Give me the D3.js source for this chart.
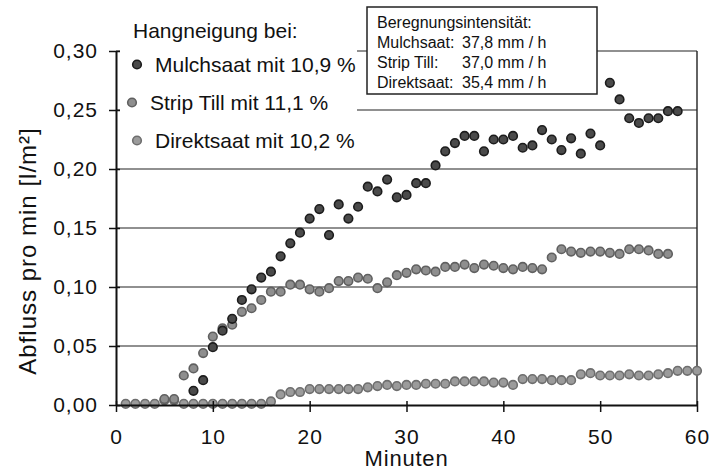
<!DOCTYPE html>
<html>
<head>
<meta charset="utf-8">
<script src="https://cdn.jsdelivr.net/npm/d3@7"></script>
<style>
body { margin: 0; background: #fff; }
svg { display: block; font-family: 'Liberation Sans', Arial, sans-serif; }
</style>
</head>
<body>
<svg id="drawing_region"></svg>
<script>
// x and y ticks
const x_ticks = [0, 10, 20, 30, 40, 50, 60];
const y_ticks = [0, 0.05, 0.10, 0.15, 0.20, 0.25, 0.30];

const legend_title = 'Hangneigung bei:';
const legend_labels = ['Mulchsaat mit 10,9 %', 'Strip Till mit 11,1 %', 'Direktsaat mit 10,2 %'];

const info_title = 'Beregnungsintensität:';
const info_names = ['Mulchsaat:', 'Strip Till:', 'Direktsaat:'];
const info_values = ['37,8 mm / h', '37,0 mm / h', '35,4 mm / h'];

// runoff per minute, first value at the start minute, then one value per minute
const mulch_start = 8;
const mulch_values = [0.012, 0.021, 0.049, 0.063, 0.073, 0.089, 0.098, 0.108, 0.113, 0.126,
    0.137, 0.146, 0.158, 0.166, 0.144, 0.170, 0.158, 0.168, 0.185, 0.181,
    0.191, 0.176, 0.178, 0.188, 0.188, 0.203, 0.215, 0.222, 0.228, 0.228,
    0.215, 0.225, 0.225, 0.228, 0.218, 0.220, 0.233, 0.225, 0.216, 0.226,
    0.213, 0.230, 0.220, 0.273, 0.259, 0.243, 0.239, 0.243, 0.243, 0.249, 0.249];

const strip_start = 5;
const strip_values = [0.005, 0.005, 0.025, 0.031, 0.044, 0.058, 0.065, 0.068, 0.079, 0.082,
    0.089, 0.096, 0.096, 0.102, 0.102, 0.098, 0.096, 0.099, 0.105, 0.105,
    0.108, 0.107, 0.099, 0.104, 0.110, 0.112, 0.115, 0.114, 0.113, 0.117,
    0.117, 0.119, 0.116, 0.119, 0.118, 0.116, 0.115, 0.117, 0.116, 0.115,
    0.125, 0.132, 0.130, 0.129, 0.130, 0.130, 0.129, 0.128, 0.132, 0.132, 0.131, 0.128, 0.128];

const direkt_start = 1;
const direkt_values = [0.001, 0.001, 0.001, 0.001, 0.004, 0.004, 0.001, 0.001, 0.001, 0.001,
    0.001, 0.001, 0.001, 0.001, 0.001, 0.003, 0.009, 0.011, 0.011, 0.0135,
    0.0135, 0.0135, 0.0135, 0.0135, 0.0135, 0.015, 0.016, 0.017, 0.016, 0.017,
    0.017, 0.018, 0.018, 0.018, 0.020, 0.020, 0.020, 0.020, 0.019, 0.019,
    0.017, 0.022, 0.022, 0.022, 0.021, 0.021, 0.021, 0.026, 0.027, 0.025,
    0.025, 0.025, 0.026, 0.025, 0.025, 0.026, 0.027, 0.029, 0.029, 0.029];

const toPoints = (start, values) => values.map((v, i) => ({ t: start + i, value: v }));

const series = [
    { name: 'Direktsaat', fill: '#9b9b9b', stroke: '#6e6e6e', points: toPoints(direkt_start, direkt_values) },
    { name: 'Strip Till', fill: '#8e8e8e', stroke: '#606060', points: toPoints(strip_start, strip_values) },
    { name: 'Mulchsaat', fill: '#4a4a4a', stroke: '#1c1c1c', points: toPoints(mulch_start, mulch_values) }
];
// legend order: Mulchsaat, Strip Till, Direktsaat
const legend_series = [series[2], series[1], series[0]];

var config = {
    parent: '#drawing_region',
    width: 713,
    height: 473,
    margin: {top:51, right:16, bottom:68, left:116}
};

class ScatterChart {

    constructor( config, data ) {
        this.config = config;
        this.data = data;
        this.init();
    }

    init() {
        let self = this;

        self.svg = d3.select( self.config.parent )
            .attr('width', self.config.width)
            .attr('height', self.config.height);

        self.inner_width = self.config.width - self.config.margin.left - self.config.margin.right;
        self.inner_height = self.config.height - self.config.margin.top - self.config.margin.bottom;

        self.chart = self.svg.append('g')
            .attr('transform', `translate(${self.config.margin.left}, ${self.config.margin.top})`);

        self.xscale = d3.scaleLinear()
            .domain([0, 60])
            .range([0, self.inner_width]);

        self.yscale = d3.scaleLinear()
            .domain([0, 0.30])
            .range([self.inner_height, 0]);

        self.xaxis = d3.axisBottom( self.xscale )
            .tickValues(x_ticks)
            .tickSize(7)
            .tickPadding(17)
            .tickSizeOuter(0);

        self.yaxis = d3.axisLeft( self.yscale )
            .tickValues(y_ticks)
            .tickSize(7)
            .tickPadding(11)
            .tickFormat(d => d3.format('.2f')(d).replace('.', ','))
            .tickSizeOuter(0);
    }

    update() {
        this.render();
    }

    render() {
        let self = this;

        // grid lines
        self.chart.selectAll('.grid')
            .data(y_ticks.filter(d => d > 0))
            .join('line')
            .attr('class', 'grid')
            .attr('x1', 0)
            .attr('x2', self.inner_width)
            .attr('y1', d => self.yscale(d))
            .attr('y2', d => self.yscale(d))
            .attr('stroke', '#222')
            .attr('stroke-width', 1.2);

        // right border
        self.chart.append('line')
            .attr('x1', self.inner_width).attr('x2', self.inner_width)
            .attr('y1', self.yscale(0.30)).attr('y2', self.yscale(0))
            .attr('stroke', '#222')
            .attr('stroke-width', 1.4);

        // points
        self.chart.selectAll('.series')
            .data(self.data)
            .join('g')
            .attr('class', 'series')
            .each(function(s) {
                d3.select(this).selectAll('circle')
                    .data(s.points)
                    .join('circle')
                    .attr('cx', d => self.xscale(d.t))
                    .attr('cy', d => self.yscale(d.value))
                    .attr('r', 4.3)
                    .attr('fill', s.fill)
                    .attr('stroke', s.stroke)
                    .attr('stroke-width', 1.6);
            });

        // legend
        const legend = self.svg.append('g');
        legend.append('rect')
            .attr('x', 120).attr('y', 12)
            .attr('width', 237).attr('height', 146)
            .attr('fill', '#fff');
        legend.append('text')
            .attr('x', 133).attr('y', 38)
            .attr('font-size', 21)
            .attr('fill', '#111')
            .text(legend_title);
        const item_x = [155, 150, 155];
        const item_y = [72, 110, 148];
        legend_series.forEach((s, i) => {
            legend.append('circle')
                .attr('cx', item_x[i] - 18).attr('cy', item_y[i] - 7.5)
                .attr('r', 4.3)
                .attr('fill', s.fill)
                .attr('stroke', s.stroke)
                .attr('stroke-width', 1.6);
            legend.append('text')
                .attr('x', item_x[i]).attr('y', item_y[i])
                .attr('font-size', 21)
                .attr('fill', '#111')
                .text(legend_labels[i]);
        });

        // info box
        const info = self.svg.append('g');
        info.append('rect')
            .attr('x', 367).attr('y', 7)
            .attr('width', 230).attr('height', 87)
            .attr('fill', '#fff')
            .attr('stroke', '#222')
            .attr('stroke-width', 1.5);
        info.append('text')
            .attr('x', 377).attr('y', 28)
            .attr('font-size', 16)
            .attr('fill', '#111')
            .text(info_title);
        info_names.forEach((n, i) => {
            info.append('text')
                .attr('x', 377).attr('y', 48 + i * 20)
                .attr('font-size', 16)
                .attr('fill', '#111')
                .text(n);
            info.append('text')
                .attr('x', 462).attr('y', 48 + i * 20)
                .attr('font-size', 16)
                .attr('fill', '#111')
                .text(info_values[i]);
        });

        // axes
        const xg = self.chart.append('g')
            .attr('transform', `translate(0, ${self.inner_height})`)
            .call( self.xaxis );
        xg.selectAll('.tick line').attr('y1', -4);
        const yg = self.chart.append('g')
            .call( self.yaxis );
        yg.selectAll('.tick line').attr('x1', 4);

        [xg, yg].forEach(g => {
            g.select('.domain').attr('stroke', '#111').attr('stroke-width', 2);
            g.selectAll('.tick line').attr('stroke', '#111').attr('stroke-width', 1.5);
            g.selectAll('.tick text')
                .attr('font-size', 21)
                .attr('fill', '#111')
                .attr('font-family', "'Liberation Sans', Arial, sans-serif")
                .style('letter-spacing', '1px');
        });

        // axis titles
        self.svg.append('text')
            .attr('x', self.config.margin.left + self.inner_width / 2)
            .attr('y', 466)
            .attr('text-anchor', 'middle')
            .attr('font-size', 22)
            .attr('fill', '#111')
            .style('letter-spacing', '0.8px')
            .text('Minuten');

        self.svg.append('text')
            .attr('transform', 'translate(36, 251) rotate(-90)')
            .attr('text-anchor', 'middle')
            .attr('font-size', 24)
            .attr('fill', '#111')
            .style('letter-spacing', '1px')
            .text('Abfluss pro min [l/m²]');
    }
}

const chart = new ScatterChart( config, series );
chart.update();
</script>
</body>
</html>
